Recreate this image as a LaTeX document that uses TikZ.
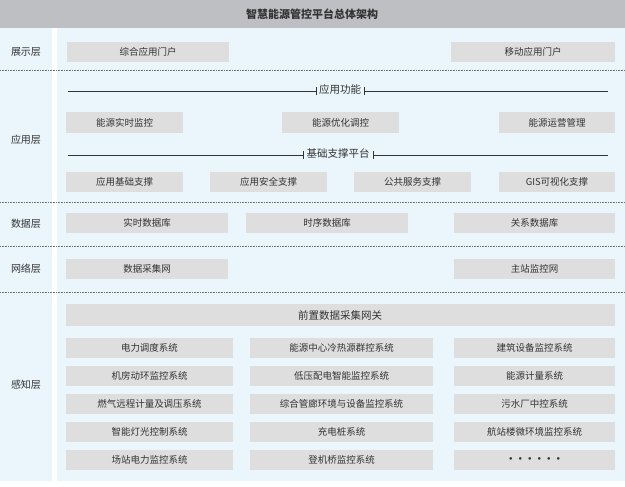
\documentclass[tikz,border=0pt]{standalone}
\usepackage{fontspec}
\setmainfont{Noto Sans CJK SC}
\usetikzlibrary{positioning}
\definecolor{panelblue}{HTML}{EAF6FC}
\definecolor{boxgray}{HTML}{DEDEDE}
\definecolor{titlegray}{HTML}{BEBFC3}
\definecolor{txt}{HTML}{333333}
\tikzset{
  modbox/.style={fill=boxgray, inner sep=0pt, text=txt, font=\fontsize{9.5}{10}\selectfont},
  layername/.style={text=txt, font=\fontsize{10}{11}\selectfont},
  sepline/.style={densely dotted, draw=txt!70, line width=0.6pt},
  headtext/.style={fill=panelblue, text=txt, font=\fontsize{10.5}{11}\selectfont, inner xsep=3pt}
}
\newcommand{\modbox}[6]{% name, x1, y1, x2, y2, text
\fill[boxgray] (#2,#3) rectangle (#4,#5);
\node[modbox] (#1) at ({(#2+#4)/2},{(#3+#5)/2}) {#6};}
\begin{document}
\begin{tikzpicture}[x=1pt,y=-1pt]
\useasboundingbox (0,0) rectangle (625,487);
\fill[white] (0,0) rectangle (625,487);
\fill[titlegray] (0,0) rectangle (625,28);
\node[text=txt, font=\bfseries\fontsize{11}{12}\selectfont] (title) at (312,14) {智慧能源管控平台总体架构};
\fill[panelblue] (0,28) rectangle (52,481);
\fill[panelblue] (57,28) rectangle (625,481);
% separators
\foreach \y in {70,202,246,292}
\draw[sepline] (0,\y) -- (625,\y);
% layer names
\node[layername] (show) at (26,52) {展示层};
\node[layername] (app) at (26,140) {应用层};
\node[layername] (data) at (26,224) {数据层};
\node[layername] (net) at (26,269) {网络层};
\node[layername] (sense) at (26,385) {感知层};
% show layer
\modbox{portal}{67}{42}{229}{62}{综合应用门户}
\modbox{mobile}{451}{42}{615}{62}{移动应用门户}
% app layer
\coordinate (fl) at (68,91); \coordinate (fr) at (608,91);
\draw[txt, line width=0.5pt] (fl) -- (fr);
\node[headtext] (func) at (340,91) {\strut 应用功能};
\draw[txt] (func.west) ++(0,-4) -- ++(0,8);
\draw[txt] (func.east) ++(0,-4) -- ++(0,8);
\modbox{mon}{66}{112}{183}{133}{能源实时监控}
\modbox{opt}{282}{112}{399}{133}{能源优化调控}
\modbox{ops}{499}{112}{615}{133}{能源运营管理}
\coordinate (bl) at (68,155); \coordinate (br) at (608,155);
\draw[txt, line width=0.5pt] (bl) -- (br);
\node[headtext] (base) at (338,155) {\strut 基础支撑平台};
\draw[txt] (base.west) ++(0,-4) -- ++(0,8);
\draw[txt] (base.east) ++(0,-4) -- ++(0,8);
\modbox{appb}{66}{172}{183}{192}{应用基础支撑}
\modbox{apps}{210}{172}{327}{192}{应用安全支撑}
\modbox{pub}{354}{172}{471}{192}{公共服务支撑}
\modbox{gis}{499}{172}{615}{192}{GIS可视化支撑}
% data layer
\modbox{rtdb}{66}{213}{228}{233}{实时数据库}
\modbox{tsdb}{246}{213}{408}{233}{时序数据库}
\modbox{rdb}{454}{213}{615}{233}{关系数据库}
% network layer
\modbox{acq}{66}{259}{228}{279}{数据采集网}
\modbox{main}{454}{259}{615}{279}{主站监控网}
% sensing layer
\fill[boxgray] (66,304) rectangle (615,326);
\node[modbox, font=\fontsize{10.5}{11}\selectfont] (gw) at (340,315) {前置数据采集网关};
\foreach \y/\a/\b/\c [count=\i] in {338/电力调度系统/能源中心冷热源群控系统/建筑设备监控系统,
  366/机房动环监控系统/低压配电智能监控系统/能源计量系统,
  394/燃气远程计量及调压系统/综合管廊环境与设备监控系统/污水厂中控系统,
  422/智能灯光控制系统/充电桩系统/航站楼微环境监控系统,
  450/场站电力监控系统/登机桥监控系统/\textbf{······}}{
  \modbox{sa\i}{66}{\y}{233}{\y+20}{\a}
  \modbox{sb\i}{250}{\y}{433}{\y+20}{\b}
  \modbox{sc\i}{454}{\y}{615}{\y+20}{\c}
}
\end{tikzpicture}
\end{document}
